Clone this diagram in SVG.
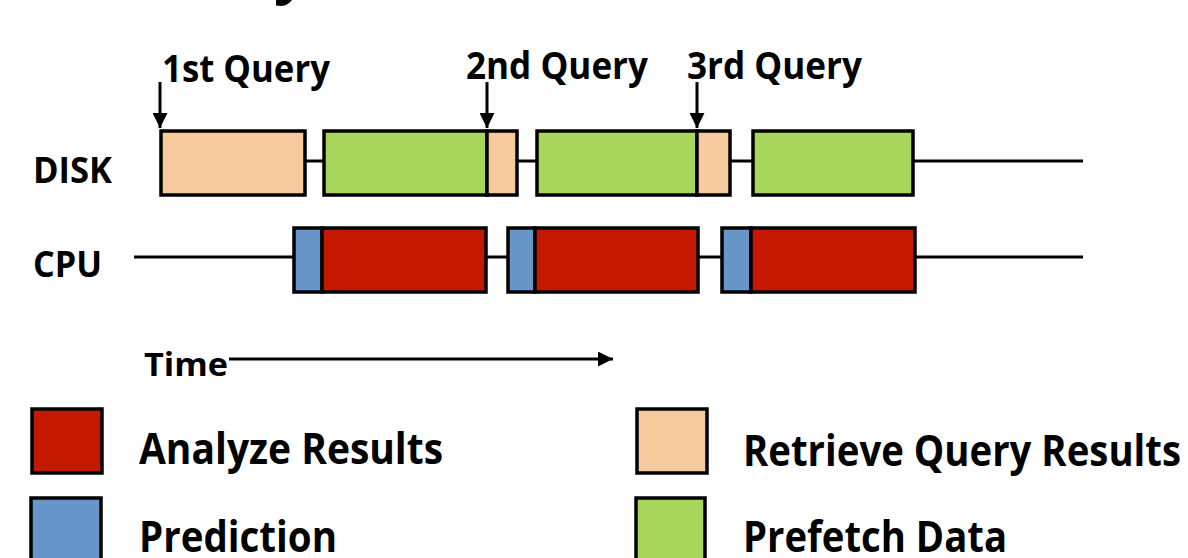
<svg xmlns="http://www.w3.org/2000/svg" width="1188" height="558" viewBox="0 0 1188 558">
  <style>
    text { font-family: "Open Sans", Lato, "Liberation Sans", sans-serif; font-weight: bold; fill: #000; }
    .lbl { font-size: 38px; }
    .row { font-size: 36px; }
    .leg { font-size: 43px; }
    .seg { stroke: #000; stroke-width: 3.5; }
    .peach { fill: #F7CA9D; }
    .green { fill: #A8D55C; }
    .red { fill: #C41800; }
    .blue { fill: #6896CB; }
    .track { stroke: #000; stroke-width: 3; fill: none; }
  </style>
  <defs>
    <marker id="head" viewBox="0 0 10 10" refX="10" refY="5" markerWidth="5" markerHeight="5" markerUnits="strokeWidth" orient="auto">
      <path d="M0,0 L10,5 L0,10 Z" fill="#000"/>
    </marker>
  </defs>
  <rect width="1188" height="558" fill="#fff"/>

  <!-- tail of the title line above -->
  <text x="274" y="-9" style="font-size:60px">y</text>

  <!-- row labels -->
  <g id="label-disk"><text class="row" x="33" y="183" textLength="79" lengthAdjust="spacingAndGlyphs">DISK</text></g>
  <g id="label-cpu"><text class="row" x="33" y="277" textLength="69" lengthAdjust="spacingAndGlyphs">CPU</text></g>

  <!-- timeline tracks and arrows -->
  <g id="connectors">
    <line class="track" x1="160" y1="161" x2="1083" y2="161"/>
    <line class="track" x1="134" y1="257" x2="1083" y2="257"/>
    <line class="track" x1="160" y1="82" x2="160" y2="128" marker-end="url(#head)"/>
    <line class="track" x1="487" y1="82" x2="487" y2="128" marker-end="url(#head)"/>
    <line class="track" x1="697" y1="82" x2="697" y2="128" marker-end="url(#head)"/>
    <line class="track" x1="229" y1="359" x2="613" y2="359" marker-end="url(#head)"/>
  </g>

  <!-- query labels -->
  <g id="q1"><text class="lbl" x="162" y="82" textLength="168" lengthAdjust="spacingAndGlyphs">1st Query</text></g>
  <g id="q2"><text class="lbl" x="466" y="79" textLength="182" lengthAdjust="spacingAndGlyphs">2nd Query</text></g>
  <g id="q3"><text class="lbl" x="687" y="79" textLength="175" lengthAdjust="spacingAndGlyphs">3rd Query</text></g>

  <!-- DISK activity -->
  <g id="disk-1">
    <rect class="seg peach" x="161" y="131" width="144" height="64"/>
  </g>
  <g id="disk-2">
    <rect class="seg green" x="324" y="131" width="163" height="64"/>
    <rect class="seg peach" x="487" y="131" width="30" height="64"/>
  </g>
  <g id="disk-3">
    <rect class="seg green" x="537" y="131" width="160" height="64"/>
    <rect class="seg peach" x="697" y="131" width="33" height="64"/>
  </g>
  <g id="disk-4">
    <rect class="seg green" x="753" y="131" width="160" height="64"/>
  </g>

  <!-- CPU activity -->
  <g id="cpu-1">
    <rect class="seg blue" x="294" y="228" width="28" height="64"/>
    <rect class="seg red" x="322" y="228" width="164" height="64"/>
  </g>
  <g id="cpu-2">
    <rect class="seg blue" x="508" y="228" width="27" height="64"/>
    <rect class="seg red" x="535" y="228" width="163" height="64"/>
  </g>
  <g id="cpu-3">
    <rect class="seg blue" x="722" y="228" width="29" height="64"/>
    <rect class="seg red" x="751" y="228" width="164" height="64"/>
  </g>

  <!-- time axis label -->
  <g id="time"><text x="144" y="376" style="font-size:33px" textLength="84" lengthAdjust="spacingAndGlyphs">Time</text></g>

  <!-- legend -->
  <g id="legend-analyze">
    <rect class="seg red" x="32" y="409" width="70" height="64"/>
    <text class="leg" x="139" y="464" textLength="304" lengthAdjust="spacingAndGlyphs">Analyze Results</text>
  </g>
  <g id="legend-prediction">
    <rect class="seg blue" x="31" y="498" width="70" height="70"/>
    <text class="leg" x="139" y="552" textLength="198" lengthAdjust="spacingAndGlyphs">Prediction</text>
  </g>
  <g id="legend-retrieve">
    <rect class="seg peach" x="637" y="409" width="70" height="64"/>
    <text class="leg" x="743" y="466" textLength="438" lengthAdjust="spacingAndGlyphs">Retrieve Query Results</text>
  </g>
  <g id="legend-prefetch">
    <rect class="seg green" x="636" y="498" width="69" height="70"/>
    <text class="leg" x="743" y="552" textLength="264" lengthAdjust="spacingAndGlyphs">Prefetch Data</text>
  </g>
</svg>
